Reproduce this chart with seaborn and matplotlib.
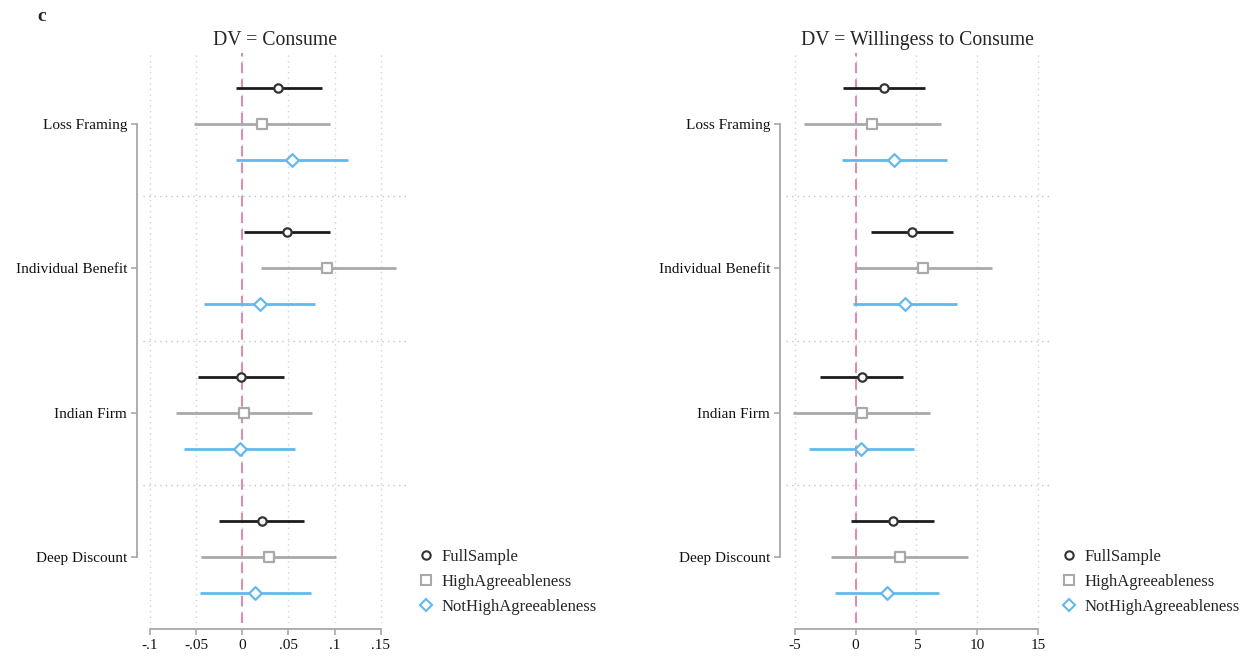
import numpy as np
import pandas as pd
import matplotlib
matplotlib.use("Agg")
import matplotlib.pyplot as plt
from matplotlib.lines import Line2D
import seaborn as sns

# ---------------- data ----------------
categories = ["Loss Framing", "Individual Benefit", "Indian Firm", "Deep Discount"]
series = ["FullSample", "HighAgreeableness", "NotHighAgreeableness"]

# DV = Consume
consume_est = {
    "FullSample":           [0.039, 0.048, -0.001, 0.021],
    "HighAgreeableness":    [0.021, 0.092, 0.0015, 0.029],
    "NotHighAgreeableness": [0.054, 0.019, -0.003, 0.014],
}
consume_lo = {
    "FullSample":           [-0.007, 0.002, -0.0475, -0.025],
    "HighAgreeableness":    [-0.052, 0.020, -0.072, -0.045],
    "NotHighAgreeableness": [-0.0065, -0.041, -0.063, -0.046],
}
consume_hi = {
    "FullSample":           [0.086, 0.095, 0.045, 0.067],
    "HighAgreeableness":    [0.095, 0.166, 0.075, 0.102],
    "NotHighAgreeableness": [0.114, 0.079, 0.057, 0.074],
}

# DV = Willingess to Consume
wtc_est = {
    "FullSample":           [2.33, 4.64, 0.49, 3.05],
    "HighAgreeableness":    [1.34, 5.55, 0.52, 3.63],
    "NotHighAgreeableness": [3.16, 4.04, 0.46, 2.58],
}
wtc_lo = {
    "FullSample":           [-1.07, 1.24, -2.94, -0.39],
    "HighAgreeableness":    [-4.29, 0.0, -5.19, -2.06],
    "NotHighAgreeableness": [-1.15, -0.25, -3.85, -1.70],
}
wtc_hi = {
    "FullSample":           [5.74, 8.05, 3.90, 6.45],
    "HighAgreeableness":    [7.00, 11.20, 6.15, 9.23],
    "NotHighAgreeableness": [7.50, 8.35, 4.78, 6.90],
}

consume_ticks = [-0.1, -0.05, 0, 0.05, 0.1, 0.15]
consume_ticklabels = ["-.1", "-.05", "0", ".05", ".1", ".15"]
wtc_ticks = [-5, 0, 5, 10, 15]
wtc_ticklabels = ["-5", "0", "5", "10", "15"]

panel_titles = ["DV = Consume", "DV = Willingess to Consume"]

# ---------------- style ----------------
sns.set_theme(style="white")
plt.rcParams["font.family"] = ["Liberation Serif", "DejaVu Serif"]

colors = {"FullSample": "#1c1c1c", "HighAgreeableness": "#a9a9a9",
          "NotHighAgreeableness": "#62b9ee"}
edge_colors = {"FullSample": "#333333", "HighAgreeableness": "#a9a9a9",
               "NotHighAgreeableness": "#62b9ee"}
markers = {"FullSample": "o", "HighAgreeableness": "s", "NotHighAgreeableness": "D"}
msizes = {"FullSample": 36, "HighAgreeableness": 52, "NotHighAgreeableness": 42}
offsets = {"FullSample": -0.25, "HighAgreeableness": 0.0, "NotHighAgreeableness": 0.25}

axis_gray = "#a8a8a8"
FS = 12

fig = plt.figure(figsize=(12.47, 6.65), dpi=100)

panels = [
    dict(est=consume_est, lo=consume_lo, hi=consume_hi, ticks=consume_ticks,
         labels=consume_ticklabels, xlim=(-0.1076, 0.1774), rect=[0.1147, 0.0632, 0.2109, 0.8571],
         leg_x=0.3295),
    dict(est=wtc_est, lo=wtc_lo, hi=wtc_hi, ticks=wtc_ticks,
         labels=wtc_ticklabels, xlim=(-5.74, 15.92), rect=[0.6303, 0.0632, 0.2109, 0.8571],
         leg_x=0.8450),
]

for p, title in zip(panels, panel_titles):
    ax = fig.add_axes(p["rect"])
    rows = []
    for s in series:
        for i, c in enumerate(categories):
            rows.append(dict(series=s, category=c, pos=i + 1 + offsets[s],
                             est=p["est"][s][i], lo=p["lo"][s][i], hi=p["hi"][s][i]))
    df = pd.DataFrame(rows)

    # grid
    for t in p["ticks"]:
        ax.axvline(t, color="#d2d2d2", lw=1.0, ls=(0, (1, 3)), zorder=0)
    for yb in [1.5, 2.5, 3.5]:
        ax.axhline(yb, color="#c4c4c4", lw=1.0, ls=(0, (1, 3)), zorder=0)
    # zero line
    ax.axvline(0, color="#d88fb2", lw=1.5, ls=(0, (5, 3)), zorder=1)

    for s in series:
        d = df[df["series"] == s]
        ax.hlines(d["pos"], d["lo"], d["hi"], color=colors[s], lw=2.0, zorder=2)
        sns.scatterplot(data=d, x="est", y="pos", ax=ax, marker=markers[s],
                        s=msizes[s], color=colors[s], facecolor="white",
                        edgecolor=edge_colors[s], linewidth=1.6, zorder=3, legend=False)

    ax.set_xlim(*p["xlim"])
    ax.set_ylim(4.458, 0.507)
    ax.set_xticks(p["ticks"])
    ax.set_xticklabels(p["labels"], fontsize=FS)
    ax.set_yticks([1, 2, 3, 4])
    ax.set_yticklabels(categories, fontsize=12.5)
    ax.set_xlabel("")
    ax.set_ylabel("")
    ax.set_title(title, fontsize=14.2, pad=6)

    for side in ["top", "right"]:
        ax.spines[side].set_visible(False)
    for side in ["left", "bottom"]:
        ax.spines[side].set_color(axis_gray)
        ax.spines[side].set_linewidth(1.3)
    ax.spines["left"].set_position(("outward", 4))
    ax.spines["bottom"].set_position(("outward", 4))
    ax.spines["left"].set_bounds(1, 4)
    ax.spines["bottom"].set_bounds(p["ticks"][0], p["ticks"][-1])
    ax.tick_params(axis="both", which="major", direction="out", length=4.5,
                   width=1.2, color=axis_gray, pad=3, labelcolor="#111111",
                   left=True, bottom=True)

    handles = [Line2D([0], [0], marker=markers[s], ls="none",
                      markersize={"FullSample": 6, "HighAgreeableness": 6.5,
                                  "NotHighAgreeableness": 6.5}[s],
                      markerfacecolor="white", markeredgecolor=edge_colors[s],
                      markeredgewidth=1.5, label=s) for s in series]
    fig.legend(handles=handles, loc="center left", bbox_to_anchor=(p["leg_x"], 0.125),
               frameon=False, fontsize=FS, handlelength=1.0, handletextpad=0.45,
               labelspacing=0.55, borderaxespad=0)

fig.text(0.03, 0.975, "c", fontsize=14, fontweight="bold", va="center", ha="left")

fig.savefig("out.png", dpi=100, facecolor="white")
